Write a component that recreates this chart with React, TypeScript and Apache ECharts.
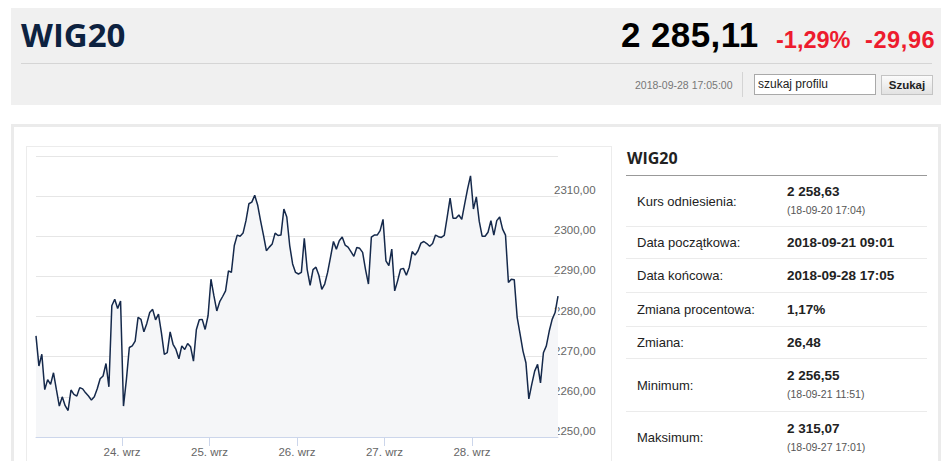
import React, { useEffect, useRef } from "react";
import * as echarts from "echarts";

const dayLabels = ["24. wrz", "25. wrz", "26. wrz", "27. wrz", "28. wrz"];
const pointsPerDay = 30;
const yMin = 2250;
const yMax = 2320;
const yStep = 10;

const wigValues = [
  2275.2, 2267.7, 2270.6, 2261.8, 2264.3, 2263.1, 2266.0, 2261.8, 2257.7, 2260.0,
  2257.8, 2256.6, 2261.7, 2260.6, 2260.2, 2262.3, 2262.0, 2261.0, 2260.2, 2259.2,
  2260.0, 2262.0, 2264.5, 2265.2, 2268.3, 2262.5, 2282.7, 2284.3, 2282.0, 2283.9,
  2257.7, 2264.3, 2272.3, 2272.7, 2273.9, 2279.8, 2279.3, 2276.2, 2278.3, 2281.0,
  2281.8, 2279.2, 2280.6, 2276.0, 2270.6, 2271.0, 2276.2, 2273.1, 2271.8, 2269.5,
  2272.7, 2271.8, 2273.3, 2272.5, 2268.9, 2276.8, 2279.2, 2279.3, 2276.8, 2280.2,
  2289.3, 2285.2, 2281.4, 2283.7, 2285.0, 2286.4, 2291.4, 2291.0, 2297.7, 2300.3,
  2300.0, 2300.8, 2303.9, 2308.1, 2308.5, 2310.2, 2307.8, 2303.9, 2300.3, 2296.4,
  2297.3, 2298.1, 2300.8, 2300.2, 2300.3, 2306.8, 2304.8, 2297.7, 2293.1, 2291.0,
  2290.6, 2291.0, 2299.5, 2291.7, 2287.8, 2291.7, 2292.3, 2290.3, 2286.8, 2288.1,
  2291.0, 2294.8, 2298.7, 2296.8, 2298.9, 2299.8, 2297.8, 2297.3, 2296.2, 2295.0,
  2297.2, 2297.0, 2296.0, 2291.7, 2288.1, 2299.8, 2300.3, 2300.3, 2301.4, 2304.2,
  2293.9, 2292.7, 2296.8, 2286.4, 2288.9, 2291.8, 2292.0, 2290.3, 2292.3, 2296.2,
  2295.3, 2296.4, 2298.3, 2298.7, 2298.2, 2297.5, 2298.2, 2300.3, 2299.9, 2299.7,
  2300.2, 2304.8, 2309.5, 2304.5, 2304.5, 2305.3, 2304.2, 2308.1, 2311.8, 2315.07,
  2306.8, 2309.8, 2303.7, 2300.0, 2300.0, 2301.0, 2303.9, 2300.3, 2303.9, 2304.8,
  2301.8, 2300.3, 2288.5, 2289.3, 2289.2, 2279.8, 2275.6, 2271.4, 2268.5, 2259.5,
  2263.1, 2266.4, 2268.1, 2263.5, 2271.0, 2272.7, 2276.4, 2279.3, 2281.0, 2285.11,
];

const headerName = "WIG20";
const headerPrice = "2 285,11";
const headerPct = "-1,29%";
const headerChange = "-29,96";
const headerTime = "2018-09-28 17:05:00";

const tableRows = [
  { label: "Kurs odniesienia:", value: "2 258,63", sub: "(18-09-20 17:04)" },
  { label: "Data początkowa:", value: "2018-09-21 09:01", sub: "" },
  { label: "Data końcowa:", value: "2018-09-28 17:05", sub: "" },
  { label: "Zmiana procentowa:", value: "1,17%", sub: "" },
  { label: "Zmiana:", value: "26,48", sub: "" },
  { label: "Minimum:", value: "2 256,55", sub: "(18-09-21 11:51)" },
  { label: "Maksimum:", value: "2 315,07", sub: "(18-09-27 17:01)" },
];
const rowHeights = [51, 32, 34, 34, 32, 53, 52];

const SANS = "'Liberation Sans', Arial, sans-serif";
const OPEN = "'Open Sans', 'Liberation Sans', sans-serif";

function Chart() {
  const ref = useRef<HTMLDivElement>(null);
  useEffect(() => {
    if (!ref.current) return;
    const chart = echarts.init(ref.current, undefined, { renderer: "svg" });
    const tickVals = dayLabels.map((_, k) => (k + 1) * pointsPerDay - 0.5);
    const fmtDay = (v: number) => {
      const k = Math.round((v + 0.5) / pointsPerDay) - 1;
      return k >= 0 && k < dayLabels.length ? dayLabels[k] : "";
    };
    chart.setOption({
      animation: false,
      grid: { left: 9, top: 9, right: 53, bottom: 24, containLabel: false },
      xAxis: {
        type: "value",
        min: 0,
        max: wigValues.length - 1,
        interval: pointsPerDay,
        axisLine: { show: true, lineStyle: { color: "#ccd6eb", width: 1 } },
        axisTick: {
          show: true,
          length: 9,
          customValues: tickVals,
          lineStyle: { color: "#ccd6eb", width: 1 },
        },
        axisLabel: {
          customValues: tickVals,
          formatter: (v: number) => fmtDay(v),
          color: "#666666",
          fontSize: 11.5,
          fontFamily: SANS,
          margin: 9,
        },
        splitLine: { show: false },
      },
      yAxis: {
        type: "value",
        position: "right",
        min: yMin,
        max: yMax,
        interval: yStep,
        axisLine: { show: false },
        axisTick: { show: false },
        axisLabel: {
          showMaxLabel: false,
          formatter: (v: number) => v.toFixed(2).replace(".", ","),
          color: "#666666",
          fontSize: 11.5,
          fontFamily: SANS,
          margin: -4,
          verticalAlign: "bottom",
          lineHeight: 12,
        },
        splitLine: { show: true, lineStyle: { color: "#e6e6e6", width: 1 } },
      },
      series: [
        {
          type: "line",
          data: wigValues.map((v, i) => [i, v]),
          showSymbol: false,
          symbol: "none",
          lineStyle: { color: "#15294b", width: 1.5 },
          areaStyle: { color: "#f5f6f8", origin: "start", opacity: 1 },
          itemStyle: { color: "#15294b" },
        },
      ],
    });
    return () => chart.dispose();
  }, []);
  return (
    <div
      ref={ref}
      style={{ position: "absolute", left: 27, top: 147, width: 584, height: 314 }}
    />
  );
}

export default function App() {
  let rowTop = 176;
  const rows = tableRows.map((r, idx) => {
    const h = rowHeights[idx];
    const top = rowTop;
    rowTop += h;
    return (
      <div
        key={idx}
        style={{
          position: "absolute",
          left: 626,
          top,
          width: 301,
          height: h,
          boxSizing: "border-box",
          borderBottom: "1px solid #ebebeb",
          display: "flex",
          alignItems: "center",
          fontFamily: SANS,
          color: "#222",
        }}
      >
        <div style={{ position: "absolute", left: 11, fontSize: 13 }}>{r.label}</div>
        <div style={{ position: "absolute", left: 161 }}>
          <div style={{ fontSize: 13.5, fontWeight: "bold", lineHeight: "19px" }}>{r.value}</div>
          {r.sub ? (
            <div style={{ fontSize: 10.5, color: "#555", lineHeight: "19px" }}>{r.sub}</div>
          ) : null}
        </div>
      </div>
    );
  });

  return (
    <div
      style={{
        position: "fixed",
        left: 0,
        top: 0,
        width: 945,
        height: 461,
        overflow: "hidden",
        background: "#ffffff",
      }}
    >
      {/* header box */}
      <div
        style={{
          position: "absolute",
          left: 11,
          top: 8,
          width: 930,
          height: 97,
          background: "#f0f0f0",
        }}
      />
      <div
        style={{
          position: "absolute",
          left: 21,
          top: 15,
          fontFamily: OPEN,
          fontWeight: 700,
          fontSize: 33,
          lineHeight: "40px",
          color: "#0d2240",
        }}
      >
        {headerName}
      </div>
      <div
        style={{
          position: "absolute",
          left: 621,
          top: 15,
          fontFamily: SANS,
          fontWeight: "bold",
          fontSize: 35,
          lineHeight: "40px",
          letterSpacing: 0.4,
          color: "#000",
        }}
      >
        {headerPrice}
      </div>
      <div
        style={{
          position: "absolute",
          left: 776,
          top: 20,
          fontFamily: SANS,
          fontWeight: "bold",
          fontSize: 23.5,
          lineHeight: "40px",
          color: "#ed1c2e",
        }}
      >
        {headerPct}
      </div>
      <div
        style={{
          position: "absolute",
          left: 865,
          top: 20,
          fontFamily: SANS,
          fontWeight: "bold",
          fontSize: 23.5,
          lineHeight: "40px",
          letterSpacing: 0.6,
          color: "#ed1c2e",
        }}
      >
        {headerChange}
      </div>
      <div
        style={{
          position: "absolute",
          left: 21,
          top: 63,
          width: 911,
          height: 1,
          background: "#d5d5d5",
        }}
      />
      <div
        style={{
          position: "absolute",
          left: 635,
          top: 78,
          fontFamily: SANS,
          fontSize: 10.5,
          lineHeight: "14px",
          color: "#777",
        }}
      >
        {headerTime}
      </div>
      <div
        style={{
          position: "absolute",
          left: 742,
          top: 72,
          width: 1,
          height: 25,
          background: "#d4d4d4",
        }}
      />
      <div
        style={{
          position: "absolute",
          left: 754,
          top: 74,
          width: 122,
          height: 21,
          boxSizing: "border-box",
          border: "1px solid #a9a9a9",
          background: "#fff",
          fontFamily: SANS,
          fontSize: 12,
          lineHeight: "19px",
          paddingLeft: 3,
          color: "#222",
        }}
      >
        szukaj profilu
      </div>
      <div
        style={{
          position: "absolute",
          left: 881,
          top: 75,
          width: 52,
          height: 20,
          boxSizing: "border-box",
          border: "1px solid #c4c4c4",
          background: "linear-gradient(#fbfbfb, #e2e2e2)",
          fontFamily: SANS,
          fontSize: 11.5,
          fontWeight: "bold",
          lineHeight: "18px",
          textAlign: "center",
          color: "#222",
        }}
      >
        Szukaj
      </div>

      {/* lower panel */}
      <div
        style={{
          position: "absolute",
          left: 11,
          top: 124,
          width: 930,
          height: 400,
          boxSizing: "border-box",
          border: "3px solid #ebebeb",
          background: "#fff",
        }}
      />
      <div
        style={{
          position: "absolute",
          left: 26,
          top: 146,
          width: 586,
          height: 340,
          boxSizing: "border-box",
          border: "1px solid #ececec",
          background: "#fff",
        }}
      />
      <Chart />

      {/* right table */}
      <div
        style={{
          position: "absolute",
          left: 627,
          top: 148,
          fontFamily: OPEN,
          fontWeight: 700,
          fontSize: 16,
          lineHeight: "20px",
          color: "#222",
        }}
      >
        {headerName}
      </div>
      <div
        style={{
          position: "absolute",
          left: 626,
          top: 175,
          width: 301,
          height: 1,
          background: "#999",
        }}
      />
      {rows}
    </div>
  );
}
